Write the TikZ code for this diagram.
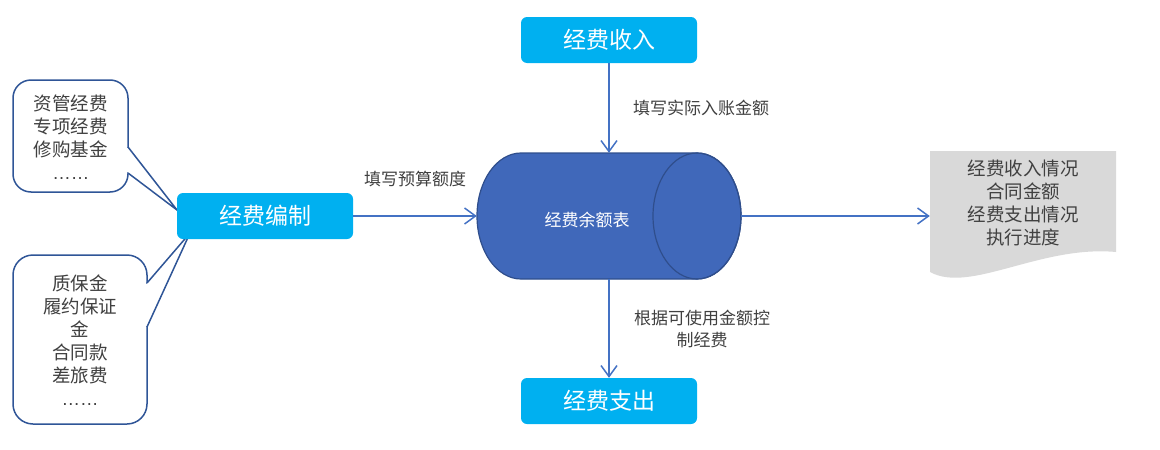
\documentclass[tikz,border=0pt]{standalone}
\usepackage{fontspec}
\newfontfamily\cjk{Noto Sans CJK SC}
\newfontfamily\latf{Liberation Sans}
\usetikzlibrary{arrows.meta,calc}
\definecolor{boxc}{HTML}{00B0F0}
\definecolor{arrc}{HTML}{4472C4}
\definecolor{cylf}{HTML}{4068BA}
\definecolor{cyld}{HTML}{2F4E8C}
\definecolor{txtc}{HTML}{404040}
\definecolor{callc}{HTML}{2F5597}
\definecolor{docf}{HTML}{D9D9D9}
\begin{document}
\begin{tikzpicture}[x=1pt,y=-1pt,
  bluebox/.style={fill=boxc, rounded corners=6pt, minimum width=176pt, minimum height=46pt, inner sep=0pt, text=white, font=\cjk\fontsize{23}{26}\selectfont},
  lbl/.style={text=txtc, font=\cjk\fontsize{17}{22}\selectfont, align=center, inner sep=0pt},
  bigtxt/.style={text=txtc, font=\cjk\fontsize{18.5}{23}\selectfont, align=center, inner sep=0pt},
  flow/.style={draw=arrc, line width=1.5pt, -{Straight Barb[length=11pt,width=16pt,line width=1.5pt]}},
  callout/.style={draw=callc, line width=1.5pt, fill=white},
  ghost/.style={inner sep=0pt, minimum width=#1, minimum height=126pt}]
\useasboundingbox (0,0) rectangle (1160,450);

% callouts (drawn first, under the box)
\coordinate (t1) at (177,210);
\coordinate (t2) at (190,233);
\draw[callout, rounded corners=18pt] (13,80) rectangle (128,192);
\fill[white] (127,148) rectangle (130,172);
\draw[callout, line join=miter] (128,147) -- (t1) -- (128,173);
\node[bigtxt] (c1) at (71,137) {资管经费\\专项经费\\修购基金\\{\latf ……}};

\draw[callout, rounded corners=20pt] (13,255) rectangle (147,424);
\fill[white] (146,284) rectangle (149,326);
\draw[callout, line join=miter] (147,283) -- (t2) -- (147,327);
\node[bigtxt] (c2) at (80,340) {质保金\\履约保证\\金\\合同款\\差旅费\\{\latf ……}};

% boxes
\node[bluebox] (in) at (609,40) {经费收入};
\node[bluebox] (out) at (609,401) {经费支出};
\node[bluebox] (bz) at (265,216) {经费编制};

% cylinder
\node[ghost=264pt] (cyl) at (609,216) {};
\draw[fill=cylf, draw=cyld, line width=1.2pt]
  (521,153) -- (697,153) arc[start angle=-90, end angle=90, x radius=44, y radius=63]
  -- (521,279) arc[start angle=90, end angle=270, x radius=44, y radius=63] -- cycle;
\draw[draw=cyld, line width=1.2pt] (697,216) ellipse[x radius=44, y radius=63];
\node[text=white, font=\cjk\fontsize{17}{20}\selectfont, inner sep=0pt] (cyltxt) at (587,220) {经费余额表};

% document
\node[ghost=186pt, minimum height=121pt] (doc) at (1023,211) {};
\fill[docf] (930,151) -- (1116,151) -- (1116,252)
  .. controls (1040,245) and (970,294) .. (930,272) -- cycle;
\node[bigtxt] (doctxt) at (1023,203) {经费收入情况\\合同金额\\经费支出情况\\执行进度};

% connectors
\draw[flow] (in.south) -- (cyl.north);
\draw[flow] (cyl.south) -- (out.north);
\draw[flow] (bz.east) -- (cyl.west);
\draw[flow] (cyl.east) -- (cyl.east -| doc.west);

% labels
\node[lbl, anchor=west] (l1) at (633,108) {填写实际入账金额};
\node[lbl] (l2) at (702,329) {根据可使用金额控\\制经费};
\node[lbl] (l3) at (415,179) {填写预算额度};
\end{tikzpicture}
\end{document}
